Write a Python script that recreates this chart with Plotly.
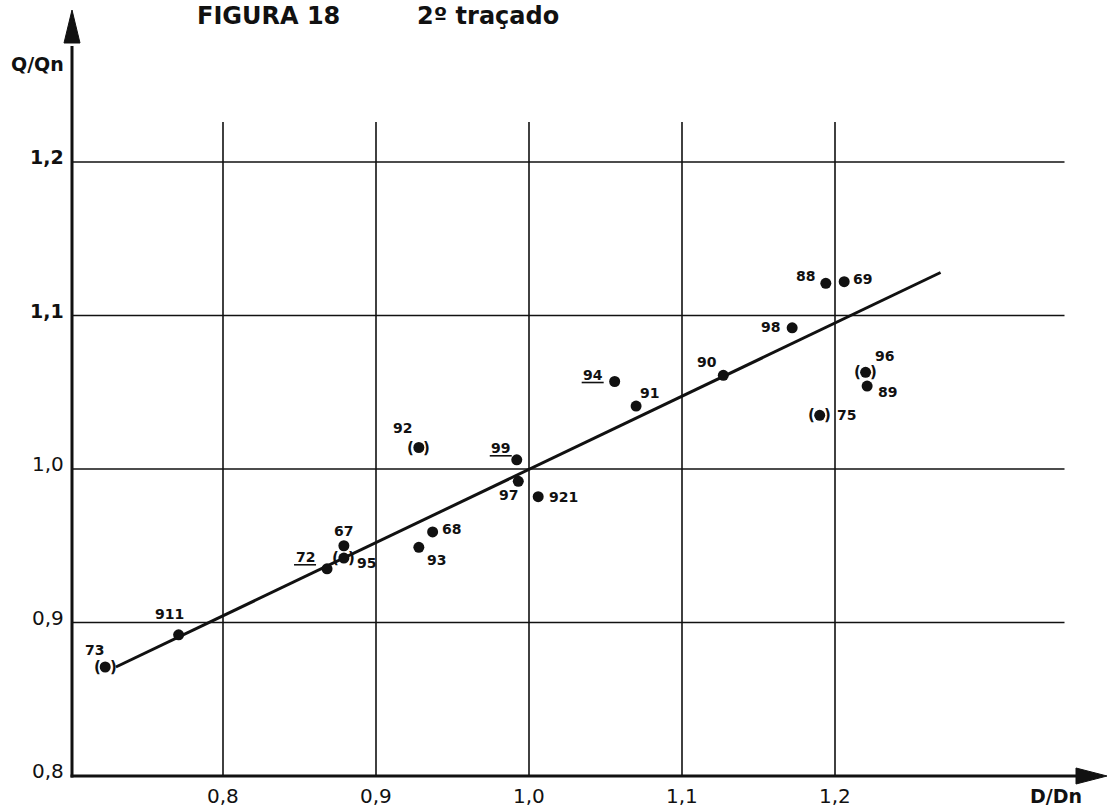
import plotly.graph_objects as go

# --- data -------------------------------------------------------------
labels = ["73", "911", "72", "67", "95", "93", "68", "92", "99", "97",
          "921", "94", "91", "90", "98", "88", "69", "96", "89", "75"]
d_dn = [0.723, 0.771, 0.868, 0.879, 0.879, 0.928, 0.937, 0.928, 0.992, 0.993,
        1.006, 1.056, 1.070, 1.127, 1.172, 1.194, 1.206, 1.220, 1.221, 1.190]
q_qn = [0.871, 0.892, 0.935, 0.950, 0.942, 0.949, 0.959, 1.014, 1.006, 0.992,
        0.982, 1.057, 1.041, 1.061, 1.092, 1.121, 1.122, 1.063, 1.054, 1.035]

# points shown in brackets and labels that are underlined
bracketed = ["73", "95", "92", "96", "75"]
underlined = ["72", "99", "94"]

# fitted straight line (end points)
fit_d = [0.730, 1.269]
fit_q = [0.871, 1.128]

x_ticks = [0.8, 0.9, 1.0, 1.1, 1.2]
x_ticktext = ["0,8", "0,9", "1,0", "1,1", "1,2"]
y_ticks = [0.8, 0.9, 1.0, 1.1, 1.2]
y_ticktext = ["0,8", "0,9", "1,0", "1,1", "1,2"]

# label offsets from each point, in pixels (dx right, dy down)
label_offset = {
    "73": (-11, -17), "911": (-9, -21), "72": (-22, -12), "67": (0, -15),
    "95": (23, 5), "93": (18, 13), "68": (19, -3), "92": (-16, -20),
    "99": (-16, -12), "97": (-10, 14), "921": (25, 0), "94": (-22, -7),
    "91": (13, -13), "90": (-16, -13), "98": (-22, -1), "88": (-20, -7),
    "69": (18, -3), "96": (19, -16), "89": (20, 6), "75": (27, 0),
}

# --- geometry -----------------------------------------------------------
W, H = 1108, 811
ML, MB = 56, 20                  # plot area a little larger than the axes
SX, SY = 1530.0, 1535.0          # pixels per unit
ORX, ORY = 223.0, 776.0          # pixel position of D/Dn = 0.8 and Q/Qn = 0.8
X0 = 0.8 - (ORX - ML) / SX
X1 = 0.8 + (W - ORX) / SX
Y0 = 0.8 - ((H - MB) - ORY) / SY
Y1 = 0.8 + ORY / SY

AX = 0.8 - (ORX - 72) / SX       # where the vertical axis sits
AY = 0.8                         # where the horizontal axis sits

INK = "#111111"

fig = go.Figure()

# regression line
fig.add_trace(go.Scatter(
    x=fit_d, y=fit_q, mode="lines",
    line=dict(color=INK, width=3), hoverinfo="skip", showlegend=False,
))

# measured points
fig.add_trace(go.Scatter(
    x=d_dn, y=q_qn, mode="markers",
    marker=dict(color=INK, size=11, line=dict(width=0)),
    text=labels, showlegend=False,
))

shapes = []
annotations = []

# grid: vertical lines stop short of the top, horizontal ones short of the arrow
for xv in x_ticks:
    shapes.append(dict(type="line", xref="x", yref="y", x0=xv, x1=xv,
                       y0=AY, y1=1.226, line=dict(color=INK, width=1.6),
                       layer="below"))
for yv in y_ticks[1:]:
    shapes.append(dict(type="line", xref="x", yref="y", x0=AX, x1=1.350,
                       y0=yv, y1=yv, line=dict(color=INK, width=1.6),
                       layer="below"))

# axes with arrow heads
x_tip = 0.8 + (1107 - ORX) / SX
x_base = 0.8 + (1076 - ORX) / SX
shapes.append(dict(type="line", xref="x", yref="y", x0=AX - 1.5 / SX, x1=x_base + 0.002,
                   y0=AY, y1=AY, line=dict(color=INK, width=3)))
hw = 8 / SY
shapes.append(dict(type="path", xref="x", yref="y",
                   path=f"M {x_tip},{AY} L {x_base},{AY + hw} L {x_base},{AY - hw} Z",
                   fillcolor=INK, line=dict(color=INK, width=1)))

y_tip = 0.8 + (ORY - 10) / SY
y_base = 0.8 + (ORY - 43) / SY
shapes.append(dict(type="line", xref="x", yref="y", x0=AX, x1=AX,
                   y0=AY - 1.5 / SY, y1=y_base - 0.002, line=dict(color=INK, width=3)))
hw = 8 / SX
shapes.append(dict(type="path", xref="x", yref="y",
                   path=f"M {AX},{y_tip} L {AX - hw},{y_base} L {AX + hw},{y_base} Z",
                   fillcolor=INK, line=dict(color=INK, width=1)))

# tick labels
for xv, t in zip(x_ticks, x_ticktext):
    annotations.append(dict(x=xv, y=AY, xref="x", yref="y", text=t,
                            showarrow=False, yshift=-20, xanchor="center",
                            yanchor="middle",
                            font=dict(family="DejaVu Sans", size=20, color=INK)))
for yv, t in zip(y_ticks, y_ticktext):
    bold = yv >= 1.1
    annotations.append(dict(x=AX, y=yv, xref="x", yref="y",
                            text=f"<b>{t}</b>" if bold else t,
                            showarrow=False, xshift=-6, yshift=5,
                            xanchor="right", yanchor="middle",
                            font=dict(family="DejaVu Sans", size=20 if not bold else 19,
                                      color=INK)))

# axis titles
annotations.append(dict(x=AX, y=y_tip, xref="x", yref="y", text="<b>Q/Qn</b>",
                        showarrow=False, xshift=-35, yshift=-54,
                        xanchor="center", yanchor="middle",
                        font=dict(family="DejaVu Sans", size=19, color=INK)))
annotations.append(dict(x=x_tip, y=AY, xref="x", yref="y", text="<b>D/Dn</b>",
                        showarrow=False, xshift=-51, yshift=-20,
                        xanchor="center", yanchor="middle",
                        font=dict(family="DejaVu Sans", size=19, color=INK)))

# figure title
for txt, cx in (("FIGURA 18", 268), ("2º traçado", 488)):
    annotations.append(dict(x=0.8 + (cx - ORX) / SX, y=0.8 + (ORY - 16) / SY,
                            xref="x", yref="y", text=f"<b>{txt}</b>",
                            showarrow=False, xanchor="center", yanchor="middle",
                            font=dict(family="DejaVu Sans", size=24, color=INK)))

# point labels, brackets and underlines
for lab, xv, yv in zip(labels, d_dn, q_qn):
    dx, dy = label_offset[lab]
    annotations.append(dict(x=xv, y=yv, xref="x", yref="y", text=f"<b>{lab}</b>",
                            showarrow=False, xshift=dx, yshift=-dy,
                            xanchor="center", yanchor="middle",
                            font=dict(family="DejaVu Sans", size=14, color=INK)))
    if lab in bracketed:
        for ch, sx in (("(", -8), (")", 8)):
            annotations.append(dict(x=xv, y=yv, xref="x", yref="y", text=f"<b>{ch}</b>",
                                    showarrow=False, xshift=sx, yshift=0,
                                    xanchor="center", yanchor="middle",
                                    font=dict(family="DejaVu Sans", size=15, color=INK)))
    if lab in underlined:
        ux0 = xv + (dx - 11) / SX
        ux1 = xv + (dx + 11) / SX
        uy = yv - (dy + 8) / SY
        shapes.append(dict(type="line", xref="x", yref="y", x0=ux0, x1=ux1,
                           y0=uy, y1=uy, line=dict(color=INK, width=1.6)))

fig.update_layout(
    width=W, height=H, autosize=False,
    margin=dict(l=ML, r=0, t=0, b=MB),
    paper_bgcolor="white", plot_bgcolor="white",
    xaxis=dict(range=[X0, X1], showgrid=False, zeroline=False, showline=False,
               showticklabels=False, ticks="", fixedrange=True),
    yaxis=dict(range=[Y0, Y1], showgrid=False, zeroline=False, showline=False,
               showticklabels=False, ticks="", fixedrange=True),
    shapes=shapes, annotations=annotations, showlegend=False,
)

fig.write_html("out.html")
